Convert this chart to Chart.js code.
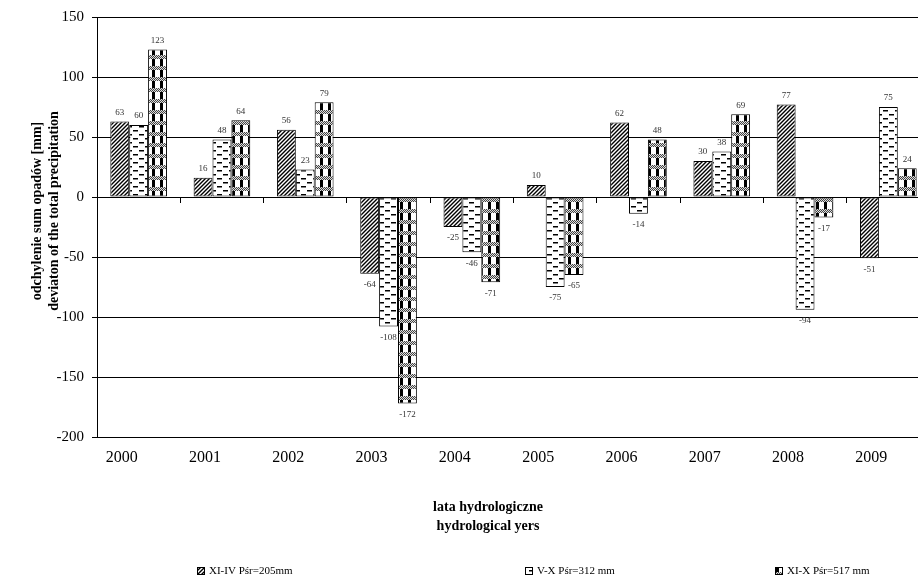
<!DOCTYPE html>
<html>
<head>
<meta charset="utf-8">
<script src="https://cdn.jsdelivr.net/npm/chart.js@4/dist/chart.umd.min.js"></script>
<style>
  html, body { margin: 0; padding: 0; background: #fff; overflow: hidden; }
  #wrap { position: relative; width: 930px; height: 583px; }
</style>
</head>
<body>
<div id="wrap"><canvas id="c"></canvas></div>
<script>
const years = ['2000','2001','2002','2003','2004','2005','2006','2007','2008','2009'];
const seriesNames = ['XI-IV Pśr=205mm', 'V-X Pśr=312 mm', 'XI-X Pśr=517 mm'];
const winterValues = [63, 16, 56, -64, -25, 10, 62, 30, 77, -51];
const summerValues = [60, 48, 23, -108, -46, -75, -14, 38, -94, 75];
const yearValues   = [123, 64, 79, -172, -71, -65, 48, 69, -17, 24];
const yTicks = [150, 100, 50, 0, -50, -100, -150, -200];
const yTitleLines = ['odchylenie sum opadów [mm]', 'deviaton of the total precipitation'];
const xTitleLines = ['lata hydrologiczne', 'hydrological yers'];

const FONT = '"Liberation Serif", "Times New Roman", serif';

function makeTile(w, h, draw) {
  const c = document.createElement('canvas');
  c.width = w; c.height = h;
  const x = c.getContext('2d');
  x.fillStyle = '#fff'; x.fillRect(0, 0, w, h);
  draw(x);
  return c;
}
const ctxMain = document.getElementById('c').getContext('2d');
const hatchTile = makeTile(4, 4, x => {
  x.strokeStyle = '#000'; x.lineWidth = 1.4;
  x.beginPath();
  x.moveTo(0, 4); x.lineTo(4, 0);
  x.moveTo(-1, 1); x.lineTo(1, -1);
  x.moveTo(3, 5); x.lineTo(5, 3);
  x.stroke();
});
const dashTile = makeTile(12, 8, x => {
  x.fillStyle = '#000';
  x.fillRect(1, 2, 5, 1.5);
  x.fillRect(7, 6, 5, 1.5);
});
const checkTile = makeTile(8, 11, x => {
  x.fillStyle = '#000';
  x.fillRect(0, 4, 3, 7);
  x.fillStyle = '#999';
  x.fillRect(0, 0, 8, 4);
  x.fillStyle = '#444';
  for (let i = 0; i < 8; i += 2) { x.fillRect(i, 0, 1, 1); x.fillRect(i + 1, 1, 1, 1); x.fillRect(i, 2, 1, 1); x.fillRect(i + 1, 3, 1, 1); }
  x.fillStyle = '#ddd';
  for (let i = 0; i < 8; i += 2) { x.fillRect(i + 1, 0, 1, 1); x.fillRect(i, 1, 1, 1); x.fillRect(i + 1, 2, 1, 1); x.fillRect(i, 3, 1, 1); }
});
const patterns = [
  ctxMain.createPattern(hatchTile, 'repeat'),
  ctxMain.createPattern(dashTile, 'repeat'),
  ctxMain.createPattern(checkTile, 'repeat')
];

const valueLabels = {
  id: 'valueLabels',
  afterDatasetsDraw(chart) {
    const ctx = chart.ctx;
    ctx.save();
    ctx.font = '9px ' + FONT;
    ctx.fillStyle = '#333';
    ctx.textAlign = 'center';
    ctx.textBaseline = 'middle';
    chart.data.datasets.forEach((ds, di) => {
      const meta = chart.getDatasetMeta(di);
      meta.data.forEach((bar, i) => {
        const v = ds.data[i];
        const y = v >= 0 ? bar.y - 9 : bar.y + 11;
        ctx.fillText(String(v), bar.x, y);
      });
    });
    ctx.restore();
  }
};

const extras = {
  id: 'extras',
  afterDraw(chart) {
    const ctx = chart.ctx;
    ctx.save();
    ctx.fillStyle = '#000';
    // y title
    ctx.font = 'bold 14px ' + FONT;
    ctx.textAlign = 'center';
    ctx.textBaseline = 'middle';
    const yc = 211;
    [37, 54].forEach((xx, i) => {
      ctx.save();
      ctx.translate(xx, yc);
      ctx.rotate(-Math.PI / 2);
      ctx.fillText(yTitleLines[i], 0, 0);
      ctx.restore();
    });
    // x title
    ctx.fillText(xTitleLines[0], 488, 507);
    ctx.fillText(xTitleLines[1], 488, 526);
    // legend
    const lx = [197, 525, 775];
    ctx.font = '11px ' + FONT;
    ctx.textAlign = 'left';
    chart.data.datasets.forEach((ds, i) => {
      ctx.fillStyle = ds.backgroundColor;
      ctx.fillRect(lx[i], 567, 8, 8);
      ctx.strokeStyle = '#000';
      ctx.lineWidth = 1;
      ctx.strokeRect(lx[i] + 0.5, 567.5, 7, 7);
      ctx.fillStyle = '#000';
      ctx.fillText(ds.label, lx[i] + 12, 571.5);
    });
    ctx.restore();
  }
};

new Chart(ctxMain, {
  type: 'bar',
  data: {
    labels: years,
    datasets: [
      { label: seriesNames[0], data: winterValues, backgroundColor: patterns[0] },
      { label: seriesNames[1], data: summerValues, backgroundColor: patterns[1] },
      { label: seriesNames[2], data: yearValues, backgroundColor: patterns[2] }
    ].map(d => Object.assign(d, { borderColor: '#000', borderWidth: 1, borderSkipped: false, barPercentage: 1, categoryPercentage: 0.68 }))
  },
  options: {
    responsive: true,
    maintainAspectRatio: false,
    devicePixelRatio: 1,
    animation: false,
    layout: { padding: { top: 15, left: 0, right: 0, bottom: 0 } },
    plugins: { legend: { display: false }, tooltip: { enabled: false } },
    scales: {
      x: {
        type: 'category',
        position: 'bottom',
        grid: { display: false, drawTicks: false },
        border: { display: false },
        ticks: { color: '#000', font: { family: FONT, size: 16 }, padding: 11, labelOffset: -17, maxRotation: 0 },
        afterFit(s) { s.height = 146; }
      },
      x2: {
        type: 'category',
        labels: years,
        position: { y: 0 },
        offset: true,
        grid: { drawOnChartArea: false, drawTicks: true, tickLength: 6, color: '#000', offset: true },
        border: { display: false },
        ticks: { display: false }
      },
      y: {
        min: -200,
        max: 150,
        afterBuildTicks(s) { s.ticks = yTicks.map(v => ({ value: v })); },
        grid: { color: '#000', lineWidth: 1, drawTicks: true, tickLength: 5 },
        border: { display: true, color: '#000', width: 1 },
        ticks: { color: '#000', font: { family: FONT, size: 15 }, padding: 8 },
        afterFit(s) { s.width = 97; }
      }
    }
  },
  plugins: [valueLabels, extras]
});
</script>
</body>
</html>
